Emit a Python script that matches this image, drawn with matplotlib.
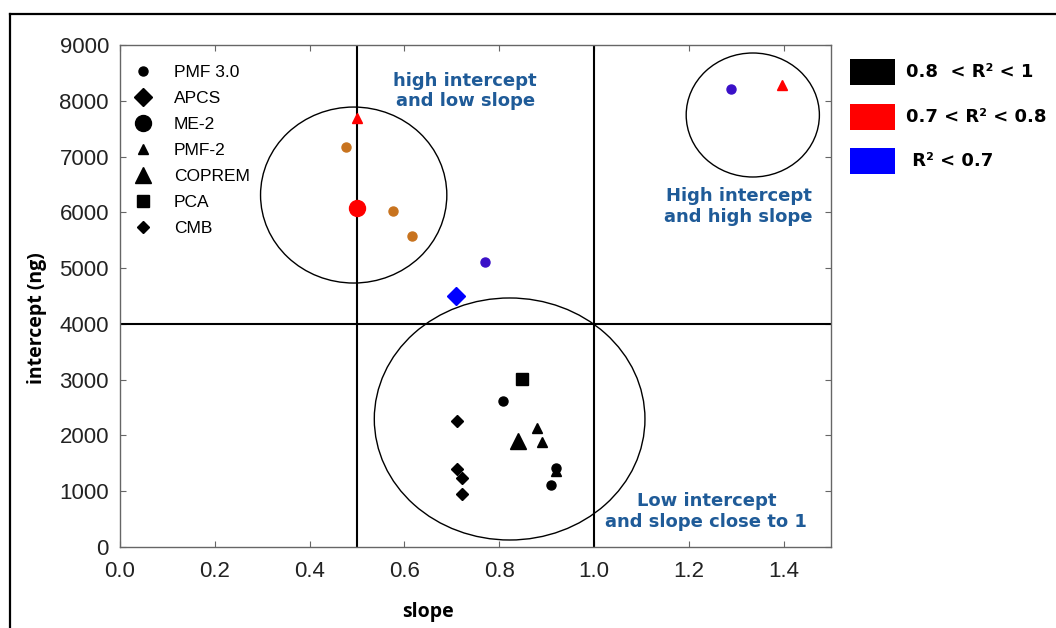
import numpy as np
import matplotlib
matplotlib.use('Agg')
import matplotlib.pyplot as plt
from matplotlib.patches import Ellipse, Rectangle
from matplotlib.lines import Line2D
from matplotlib.ticker import FormatStrFormatter

# points per method: slope, intercept (ng), colour
pmf3_x = [0.476, 0.577, 0.617, 0.770, 1.288, 0.808, 0.909, 0.920]
pmf3_y = [7170, 6020, 5575, 5110, 8210, 2620, 1110, 1420]
pmf3_c = ['#c8731e', '#c8731e', '#c8731e', '#3a10c8', '#3a10c8', 'black', 'black', 'black']

apcs_x = [0.708]
apcs_y = [4500]
apcs_c = ['#0000ff']

me2_x = [0.500]
me2_y = [6080]
me2_c = ['#ff0000']

pmf2_x = [0.500, 1.397, 0.879, 0.890, 0.920]
pmf2_y = [7690, 8280, 2130, 1880, 1360]
pmf2_c = ['#ff0000', '#ff0000', 'black', 'black', 'black']

coprem_x = [0.839]
coprem_y = [1900]
coprem_c = ['black']

pca_x = [0.848]
pca_y = [3010]
pca_c = ['black']

cmb_x = [0.710, 0.710, 0.721, 0.721]
cmb_y = [2260, 1400, 1240, 950]
cmb_c = ['black', 'black', 'black', 'black']

# group circles: centre x, centre y, width, height
groups = [(0.493, 6310, 0.393, 3155),
          (1.335, 7745, 0.281, 2223),
          (0.822, 2295, 0.571, 4339)]

r2_labels = ['0.8  < R² < 1', '0.7 < R² < 0.8', ' R² < 0.7']
r2_colors = ['black', '#ff0000', '#0000ff']

fig = plt.figure(figsize=(10.56, 6.28), dpi=100)
ax = fig.add_axes([120 / 1056, 81 / 628, 711 / 1056, 502 / 628])

methods = [
    ('PMF 3.0', pmf3_x, pmf3_y, pmf3_c, 'o', 6.5),
    ('APCS', apcs_x, apcs_y, apcs_c, 'D', 9),
    ('ME-2', me2_x, me2_y, me2_c, 'o', 11.5),
    ('PMF-2', pmf2_x, pmf2_y, pmf2_c, '^', 7),
    ('COPREM', coprem_x, coprem_y, coprem_c, '^', 12),
    ('PCA', pca_x, pca_y, pca_c, 's', 8),
    ('CMB', cmb_x, cmb_y, cmb_c, 'D', 6),
]

handles = []
for name, xs, ys, cs, mk, ms in methods:
    for x, y, c in zip(xs, ys, cs):
        ax.plot(x, y, marker=mk, markersize=ms, color=c, linestyle='none', zorder=4)
    handles.append(Line2D([], [], marker=mk, markersize=ms, color='black',
                          linestyle='none', label=name))

# quadrant lines
ax.axvline(0.5, color='black', lw=1.5, zorder=2)
ax.axvline(1.0, color='black', lw=1.5, zorder=2)
ax.axhline(4000, color='black', lw=1.5, zorder=2)

for cx, cy, w, h in groups:
    ax.add_patch(Ellipse((cx, cy), w, h, fill=False, edgecolor='black',
                         lw=1.0, zorder=3, clip_on=False))

blue = '#1f5b98'
tkw = dict(color=blue, fontsize=13, fontweight='bold', ha='center', va='center',
           linespacing=1.2, family='DejaVu Sans')
ax.text(0.728, 8175, 'high intercept\nand low slope', **tkw)
ax.text(1.305, 6110, 'High intercept\nand high slope', **tkw)
ax.text(1.237, 640, 'Low intercept\nand slope close to 1', **tkw)

ax.set_xlim(0, 1.5)
ax.set_ylim(0, 9000)
ax.set_xticks(np.arange(0, 1.41, 0.2))
ax.set_yticks(np.arange(0, 9001, 1000))
ax.xaxis.set_major_formatter(FormatStrFormatter('%.1f'))
ax.tick_params(direction='in', top=True, right=True, length=4, color='#666666',
               labelsize=16, labelcolor='#222222')
ax.tick_params(axis='x', pad=10)
ax.tick_params(axis='y', pad=8)
for lab in ax.get_xticklabels() + ax.get_yticklabels():
    lab.set_family('Liberation Sans')
for sp in ax.spines.values():
    sp.set_color('#666666')
    sp.set_linewidth(1.0)

ax.set_xlabel('slope', fontsize=14, fontweight='bold', family='Open Sans')
ax.xaxis.set_label_coords(0.433, -0.109)
ax.set_ylabel('intercept (ng)', fontsize=14, fontweight='bold', family='Open Sans')
ax.yaxis.set_label_coords(-0.103, 0.456)

leg = ax.legend(handles=handles, loc='upper left', frameon=False,
                bbox_to_anchor=(0.0, 0.985), prop={'family': 'Liberation Sans', 'size': 12.5},
                handlelength=1.2, handletextpad=1.2, labelspacing=0.63, borderaxespad=0.3)

# R2 colour key outside the axes
for i, (lab, col) in enumerate(zip(r2_labels, r2_colors)):
    ytop = 59 + i * 44.5
    fig.add_artist(Rectangle((850 / 1056, 1 - (ytop + 26) / 628), 45 / 1056, 26 / 628,
                             facecolor=col, edgecolor='none', transform=fig.transFigure))
    fig.text(906 / 1056, 1 - (ytop + 13) / 628, lab, fontsize=13, fontweight='bold',
             family='DejaVu Sans', va='center', ha='left')

# outer frame
fig.add_artist(Line2D([10 / 1056, 1], [1 - 14 / 628, 1 - 14 / 628], color='black', lw=1.6,
                      transform=fig.transFigure))
fig.add_artist(Line2D([10 / 1056, 10 / 1056], [0, 1 - 14 / 628], color='black', lw=1.6,
                      transform=fig.transFigure))

fig.savefig('out.png', dpi=100)
